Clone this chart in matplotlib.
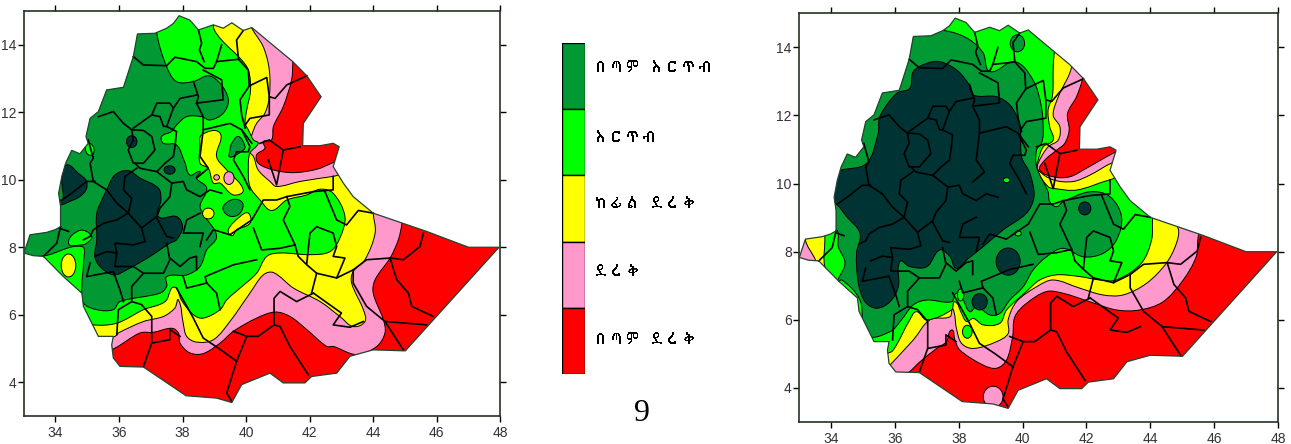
#!/usr/bin/env python
"""Two Ethiopia moisture zone maps with a shared legend"""
import matplotlib
matplotlib.use('Agg')
import matplotlib.pyplot as plt
from matplotlib import font_manager
from matplotlib.ft2font import FT2Font
from matplotlib.patches import Ellipse, PathPatch, Polygon
from matplotlib.path import Path
import numpy as np

DEEP = '#003333'
DARK = '#009933'
GREEN = '#00FF00'
YELLOW = '#FFFF00'
PINK = '#FF99CC'
RED = '#FF0000'

labels = ['በጣም እርጥብ', 'እርጥብ', 'ከፊል ደረቅ', 'ደረቅ', 'በጣም ደረቅ']
legend_colors = [DARK, GREEN, YELLOW, PINK, RED]
x_ticks = [34, 36, 38, 40, 42, 44, 46, 48]
y_ticks = [4, 6, 8, 10, 12, 14]

# lon, lat of the border
border = [(33.01,7.83),(33.2,8.37),(33.72,8.44),(33.99,8.52),(34.16,8.61),(34.16,9.21),(34.1,9.6),(34.2,10.1),
          (34.32,10.49),(34.51,10.87),(34.77,10.77),(35.03,11.08),(34.96,11.28),(35.09,11.82),(35.35,12.02),
          (35.61,12.66),(36.14,12.74),(36.45,13.65),(36.58,14.32),(37.13,14.34),(37.5,14.49),(37.71,14.63),
          (37.89,14.86),(38.23,14.73),(38.5,14.44),(38.97,14.59),(39.28,14.49),(39.55,14.65),(39.91,14.42),
          (40.18,14.51),(40.65,14.14),(41.47,13.5),(41.91,13.08),(42.36,12.46),(41.8,11.67),(41.78,11.01),
          (42.33,11.01),(42.74,11.08),(42.93,10.98),(42.74,10.39),(43.06,9.9),(43.37,9.5),(44.0,9.01),
          (45.68,8.47),(47.0,8.0),(47.96,8.0),(45.01,4.93),(44.0,4.96),(43.27,4.77),(42.85,4.27),(42.06,4.17),
          (41.85,3.98),(41.17,3.98),(40.75,4.27),(39.86,3.93),(39.55,3.4),(39.07,3.53),(38.11,3.6),(36.77,4.45),
          (36.03,4.47),(35.82,4.72),(35.77,5.11),(35.82,5.36),(35.35,5.36),(34.88,6.25),(34.83,6.64),(34.25,7.13),
          (33.62,7.73),(33.3,7.75)]

# zone borders, left map
left_pink = [(41.47,13.85),(41.47,13.5),(41.43,12.96),(41.17,12.17),(40.86,11.58),(40.8,11.18),(40.54,11.13),
             (40.59,10.93),(40.33,10.74),(40.38,10.49),(40.86,10.29),(41.49,10.21),(42.22,10.31),(42.74,10.51),
             (43.16,10.69),(44.95,9.4),(44.9,8.69),(44.79,8.22),(44.53,7.68),(44.06,7.04),(44.0,6.64),(44.32,5.85),
             (44.37,5.46),(44.11,5.06),(43.48,4.82),(42.75,5.06),(42.54,5.06),(41.91,5.56),(41.38,5.95),(40.91,6.08),
             (40.33,5.9),(39.6,5.51),(39.18,5.16),(38.65,4.85),(38.23,4.87),(37.92,5.16),(37.87,5.46),(37.66,5.6),
             (37.08,5.48),(36.66,5.46),(35.87,5.01),(35.4,4.86),(31,4.8),(31,16),(41.47,16)]
left_yellow = [(40.0,16),(40.12,14.64),(40.54,13.94),(40.73,13.25),(40.73,12.46),(40.59,11.97),(40.33,11.67),
               (40.18,11.33),(40.07,10.88),(40.23,10.69),(40.38,10.29),(40.75,9.95),(40.96,9.8),(41.7,9.95),
               (42.74,10.1),(43.37,10.2),(44.0,9.4),(44.0,9.01),(44.06,8.42),(43.74,7.63),(43.37,7.28),(43.32,6.94),
               (43.69,6.15),(43.74,5.8),(43.37,5.65),(42.95,5.95),(42.33,6.39),(41.49,6.79),(40.86,7.25),(40.54,7.18),
               (40.12,6.64),(39.49,5.8),(38.97,5.26),(38.44,5.19),(38.13,5.36),(38.02,5.75),(37.87,6.44),(37.76,6.2),
               (37.4,5.95),(36.77,5.8),(35.98,5.46),(35.87,5.36),(35.4,5.26),(31,5.2),(31,16)]
left_green = [(38.97,16),(38.97,14.54),(39.23,14.14),(39.81,13.6),(40.07,13.25),(40.14,12.66),(40.02,12.07),
              (39.97,11.67),(40.07,11.48),(40.23,11.18),(40.38,11.08),(40.12,10.79),(40.07,10.39),(40.12,9.8),
              (40.44,9.4),(40.8,9.09),(41.28,9.4),(41.91,9.55),(42.33,9.72),(42.74,9.6),(43.11,8.91),(42.95,8.27),
              (42.64,7.87),(42.01,7.78),(41.07,7.83),(40.65,7.73),(40.33,7.23),(39.81,6.79),(39.39,6.44),(39.18,6.15),
              (38.65,5.9),(38.34,6.0),(37.96,6.44),(37.81,6.79),(37.66,6.79),(37.45,6.39),(36.77,6.15),(35.93,5.75),
              (35.19,5.7),(34.67,5.85),(31,6),(31,16)]
left_dark = [(37.15,15.5),(37.19,14.34),(37.5,13.35),(37.81,12.91),(38.34,12.91),(38.81,13.08),(39.18,12.86),
             (39.44,12.37),(39.28,11.97),(38.86,11.77),(38.6,11.87),(38.13,11.87),(37.81,11.62),(37.66,11.43),
             (37.34,11.28),(37.4,11.08),(37.81,11.03),(38.08,10.49),(38.23,10.14),(38.55,10.24),(38.44,10.05),
             (38.76,9.75),(38.55,9.21),(38.71,8.91),(39.07,8.32),(38.76,7.92),(38.55,7.43),(38.13,7.18),(37.5,7.13),
             (37.5,6.84),(37.29,6.64),(36.03,6.39),(35.82,6.15),(35.3,6.15),(34.88,6.35),(34.83,6.84),(34.88,7.53),
             (34.83,8.02),(33.67,7.75),(32.9,7.73),(31,8),(31,15.5)]
left_deep = [(35.61,9.7),(35.87,10.14),(36.29,10.27),(36.66,10.05),(37.24,9.75),(37.32,9.4),(37.24,8.91),(37.81,8.91),
             (38.0,8.61),(37.81,8.22),(37.6,8.12),(36.98,7.73),(36.24,7.33),(35.82,7.18),(35.4,7.43),(35.24,7.73),
             (35.3,8.22),(35.3,9.01),(35.51,9.5)]
left_deep_west = [(34.14,9.4),(34.2,10.1),(34.35,10.44),(34.72,10.19),(34.98,9.95),(34.93,9.65),(34.56,9.4),
                  (33.9,9.3),(33.9,10.2)]
left_green_a = [(34.41,8.12),(34.77,8.5),(35.14,8.32),(34.98,8.12),(34.83,8.07)]
left_green_b = [(34.98,11.08),(35.19,10.98),(35.17,10.74),(34.98,10.79)]
left_yellow_a = [(38.6,11.33),(39.18,11.38),(39.07,10.69),(39.39,10.29),(39.91,9.7),(39.6,9.55),(39.18,9.9),
                 (38.97,9.9),(38.81,10.34),(38.55,10.49),(38.55,10.98)]
left_yellow_b = [(40.07,9.01),(40.12,8.71),(39.7,8.52),(39.55,8.34),(39.44,8.52),(39.81,8.91)]
left_dark_a = [(39.49,10.88),(39.55,11.08),(39.76,11.28),(39.97,10.98),(39.91,10.88),(39.49,10.67)]
left_dark_b = [(39.28,9.21),(39.6,9.42),(39.89,9.31),(39.81,9.01),(39.55,8.91),(39.34,9.01)]

# lon, lat, width, height, colour
left_spots = [(34.41,7.46,0.46,0.68,YELLOW),(39.07,10.07,0.18,0.16,PINK),(39.46,10.05,0.32,0.38,PINK),
              (38.81,9.0,0.36,0.32,YELLOW),(36.4,11.13,0.33,0.35,DEEP),(37.59,10.29,0.35,0.25,DEEP)]

# zone borders, right map
right_pink = [(41.88,16),(41.88,13.43),(41.88,13.09),(41.69,12.55),(41.41,12.06),(41.46,11.57),(41.32,11.18),
              (41.08,10.99),(40.7,10.69),(40.54,10.4),(40.96,10.2),(41.48,10.2),(42.0,10.45),(42.84,10.89),
              (43.15,10.99),(45.65,9.03),(45.5,8.44),(45.44,7.86),(45.03,7.17),(44.4,6.53),(43.67,6.29),(42.94,6.29),
              (42.11,6.53),(41.27,6.78),(40.75,6.83),(40.12,6.48),(39.76,6.09),(39.69,5.51),(39.5,4.82),(39.19,4.58),
              (38.77,4.67),(38.04,5.11),(37.88,5.41),(37.78,5.7),(37.62,5.36),(37.31,5.16),(36.79,4.77),(36.42,4.45),
              (36.06,4.33),(31,4.5),(31,16)]
right_yellow = [(41.55,16),(41.55,13.5),(41.12,12.55),(40.96,12.01),(41.17,11.67),(41.12,11.28),(40.8,11.08),
                (40.49,10.6),(40.49,10.4),(40.96,10.11),(41.58,10.06),(42.11,10.25),(42.78,10.6),(43.15,10.69),
                (44.09,10.1),(44.87,8.69),(44.82,8.25),(44.5,7.66),(43.88,7.07),(43.15,6.73),(42.52,6.73),(41.79,6.93),
                (40.96,7.17),(40.44,6.97),(39.81,6.53),(39.55,6.0),(39.55,5.6),(39.19,5.36),(38.46,5.16),(38.09,5.31),
                (37.93,5.75),(37.81,6.34),(37.73,6.09),(37.1,6.0),(36.58,5.41),(35.85,4.67),(35.64,4.43),(33.66,6.58),
                (33.55,7.66),(33.19,8.42),(33.19,16)]
right_green = [(41.01,16),(41.01,14.12),(40.96,13.43),(40.94,12.6),(40.8,12.16),(40.85,11.67),(40.96,11.28),
               (40.65,11.08),(40.49,10.69),(40.44,10.4),(40.8,9.91),(40.96,9.86),(41.69,9.81),(42.73,10.11),
               (43.25,10.2),(44.09,9.52),(44.07,8.93),(44.04,8.34),(43.72,7.66),(42.94,7.17),(42.42,7.17),(41.79,7.27),
               (41.06,7.32),(40.54,7.17),(40.12,6.83),(39.5,6.29),(39.29,5.9),(38.77,5.85),(38.46,6.04),(38.25,5.95),
               (38.09,6.19),(37.88,6.53),(37.78,6.29),(37.0,6.0),(36.68,6.24),(36.47,6.0),(35.95,5.11),(35.74,5.02),
               (34.7,5.02),(33.81,7.56),(33.81,8.34),(33.81,16)]
right_dark = [(37.73,14.46),(38.35,14.22),(38.77,13.83),(38.98,13.29),(39.76,13.58),(40.33,13.04),(40.59,12.26),
              (40.65,11.48),(40.59,11.18),(40.44,10.99),(40.44,10.5),(40.8,9.76),(40.85,9.47),(41.06,9.32),(41.27,9.47),
              (42.11,9.76),(42.73,9.62),(43.1,9.03),(42.94,8.34),(42.52,7.95),(41.9,7.85),(41.27,8.1),(40.75,7.85),
              (40.33,7.46),(40.02,6.97),(39.6,6.58),(39.29,6.19),(38.98,6.14),(38.56,6.39),(38.35,6.24),(38.14,6.58),
              (37.93,6.78),(37.78,6.53),(37.0,6.58),(36.58,6.44),(36.21,6.0),(35.85,5.65),(35.12,5.56),(34.91,6.58),
              (34.34,7.17),(34.18,7.07),(34.44,7.66),(34.23,8.15),(34.18,8.64),(33.66,8.74),(33.66,15),(36.5,14.6)]
right_deep = [(34.34,10.4),(35.12,10.6),(35.48,11.48),(35.53,11.97),(36.06,12.65),(36.47,12.8),(36.58,13.29),(37.0,13.53),
              (37.41,13.58),(37.93,13.34),(38.3,12.94),(38.46,12.6),(39.19,12.55),(39.65,12.26),(39.92,11.67),(39.97,10.79),
              (40.23,10.3),(40.36,9.62),(40.12,9.13),(39.39,8.64),(38.77,8.15),(38.25,7.76),(37.93,7.51),(37.73,7.85),
              (37.41,8.05),(37.0,7.56),(36.47,7.56),(36.16,7.71),(36.11,6.97),(35.85,6.53),(35.43,6.34),(35.07,6.53),
              (34.86,7.07),(34.8,7.95),(34.91,8.54),(34.49,9.03),(34.13,9.42),(33.66,9.52),(33.97,10.3)]
right_spots = [(39.55,7.71,0.75,0.8,DEEP),(38.66,6.53,0.48,0.48,DEEP),(41.95,9.27,0.38,0.38,DEEP),
               (39.84,14.12,0.45,0.5,DARK),(39.08,3.74,0.62,0.62,PINK),(38.27,5.65,0.3,0.38,GREEN),
               (39.5,10.1,0.2,0.15,GREEN),(39.86,8.54,0.2,0.15,GREEN),(38.06,6.73,0.2,0.35,GREEN)]

left_zones = [(left_pink, PINK), (left_yellow, YELLOW), (left_green, GREEN), (left_dark, DARK),
              (left_green_a, GREEN), (left_green_b, GREEN), (left_yellow_a, YELLOW), (left_yellow_b, YELLOW),
              (left_dark_a, DARK), (left_dark_b, DARK), (left_deep, DEEP), (left_deep_west, DEEP)]
right_zones = [(right_pink, PINK), (right_yellow, YELLOW), (right_green, GREEN), (right_dark, DARK), (right_deep, DEEP)]

# administrative boundaries, same on both maps
admin = [
    [(36.45,13.65),(36.77,13.4),(37.5,13.38),(37.76,13.63),(38.44,13.5),(38.71,13.3),(38.97,13.3),(39.07,13.5),(39.76,13.57)],
    [(38.5,14.44),(38.6,14.04),(38.53,13.85),(38.68,13.5)],
    [(39.23,14.0),(39.07,13.5)],
    [(39.76,13.57),(39.7,14.14),(39.91,14.42)],
    [(39.76,13.57),(40.07,13.25),(40.1,12.78),(40.65,13.03),(40.73,12.46),(40.73,11.92),(40.12,11.82),(39.97,11.62)],
    [(41.91,13.08),(41.28,12.81),(40.91,12.41),(40.73,12.46)],
    [(40.1,12.78),(39.81,12.37),(39.86,11.92),(39.97,11.53)],
    [(38.34,12.91),(38.5,12.46),(38.44,12.27),(39.28,12.37),(39.23,12.96),(38.65,13.25)],
    [(38.44,12.27),(38.65,11.87),(38.65,11.48),(39.49,11.67),(39.86,11.48),(40.18,11.08)],
    [(35.35,11.87),(35.82,12.02),(36.14,11.67),(36.4,11.48),(36.77,11.46),(37.03,11.28),(37.13,10.88),(36.77,10.49),
     (36.45,10.49),(36.29,10.88),(36.45,11.18),(36.4,11.48)],
    [(36.45,11.53),(37.03,11.92),(37.19,12.27),(37.6,12.27),(37.71,12.12),(37.5,11.58),(37.4,11.58),(37.29,11.87),(37.03,11.92)],
    [(37.71,12.12),(37.92,12.41),(38.44,12.51)],
    [(37.5,11.58),(37.81,11.43),(37.76,10.98),(37.71,10.69),(37.45,10.49),(37.19,10.24),(36.66,10.34),(36.5,10.49)],
    [(36.56,10.34),(36.19,10.1),(36.14,9.7),(36.4,9.45),(36.29,9.01)],
    [(35.61,9.7),(35.19,9.95),(35.09,10.49),(35.19,10.64),(35.03,11.18)],
    [(34.2,9.4),(34.51,9.6),(34.98,9.95),(35.24,9.95)],
    [(35.61,9.7),(35.93,9.31),(36.29,9.01),(36.71,8.57),(37.19,8.91),(37.29,9.16),(37.6,9.5),(37.66,9.9)],
    [(36.29,9.01),(35.93,8.81),(35.51,8.71),(35.19,8.52),(35.09,8.32),(34.88,8.22)],
    [(37.19,8.86),(37.5,8.32),(37.71,8.27)],
    [(36.71,8.57),(36.82,8.17),(36.45,8.07),(35.87,8.12),(35.93,7.83),(35.61,7.87),(35.24,7.73)],
    [(37.19,10.24),(37.66,9.9),(38.02,9.95),(38.13,9.7),(38.55,9.5),(38.86,9.7),(39.23,9.6)],
    [(38.55,9.01),(38.13,8.81),(38.02,8.42),(38.65,8.42),(38.55,8.02)],
    [(34.16,8.61),(34.04,8.12),(33.62,7.73)],
    [(34.16,8.55),(34.41,8.47)],
    [(35.09,7.53),(34.98,7.13),(35.82,7.28),(36.03,6.74),(36.14,6.39)],
    [(35.93,7.83),(35.87,7.43),(36.45,7.43),(36.77,7.23)],
    [(37.5,8.12),(37.6,7.63),(37.4,7.23),(36.77,7.23),(36.4,6.84),(36.4,6.39)],
    [(37.6,7.68),(37.92,7.43),(38.23,7.68),(38.44,7.73),(38.44,7.33)],
    [(38.76,8.22),(38.97,8.52),(39.49,8.37),(40.18,8.81),(40.54,9.4),(40.96,9.4),(41.28,9.5),(42.12,9.65),(42.74,9.7),(42.74,10.1)],
    [(40.23,8.57),(40.49,7.92),(41.07,7.97),(41.54,8.07),(41.64,7.73),(41.91,7.48),(42.22,7.23),(42.06,6.64)],
    [(41.54,8.07),(41.17,8.81),(41.38,9.21),(41.28,9.5)],
    [(41.91,7.53),(42.01,8.42),(42.22,8.61),(42.74,8.42),(42.85,8.02),(42.74,7.73),(43.11,7.68),(42.85,7.09),(42.22,7.23)],
    [(42.85,7.09),(43.37,7.33)],
    [(44.0,9.01),(43.53,9.09),(43.16,8.66),(42.85,8.81),(42.48,9.65)],
    [(44.53,7.68),(43.79,7.63),(43.37,7.33),(43.37,6.94),(43.79,6.25),(44.37,5.8),(45.68,5.7)],
    [(45.58,8.42),(45.47,8.02),(44.95,7.63),(44.53,7.68),(44.74,7.04),(45.11,6.64),(45.21,6.25),(45.89,5.95)],
    [(44.37,5.8),(44.74,5.26),(44.95,4.96)],
    [(42.12,6.64),(43.0,6.05),(42.74,5.7),(43.27,5.63),(43.69,5.8)],
    [(42.12,6.64),(41.59,6.39),(41.07,6.69),(40.88,6.49),(40.88,5.7)],
    [(40.88,5.7),(41.07,5.65),(41.38,5.06),(41.96,4.22)],
    [(40.88,5.7),(40.38,5.36),(40.02,5.36),(39.7,4.62),(39.39,3.68),(39.55,3.43)],
    [(39.7,4.62),(39.13,5.01),(38.65,5.31),(38.34,5.9),(38.02,6.44),(37.81,6.79)],
    [(40.02,5.36),(39.6,5.51)],
    [(37.92,5.36),(37.6,5.56),(37.6,5.26),(37.03,5.16),(36.77,4.47)],
    [(37.03,5.16),(37.03,5.95),(36.71,6.3),(36.4,6.39),(35.98,6.15),(35.93,5.41)],
    [(39.18,6.15),(39.07,6.64),(38.76,6.94),(38.71,7.13),(39.6,7.48),(40.33,7.63)],
    [(38.02,7.13),(38.13,6.79),(38.76,6.94)],
    [(40.7,10.59),(40.96,9.85),(41.17,10.88),(40.73,11.18),(40.44,11.08)],
    [(41.17,10.88),(41.7,10.98)],
    [(39.86,11.48),(40.12,10.98),(40.07,10.83),(39.7,10.83),(39.6,10.59),(39.91,10.1),(40.12,9.7)],
    [(38.65,11.48),(38.55,10.69),(38.81,10.34),(38.44,10.05)],
]


def ethiopic_font():
    """First installed font that has the Ethiopic letters"""
    for entry in font_manager.fontManager.ttflist:
        try:
            if 0x1260 in FT2Font(entry.fname).get_charmap():
                return entry.name
        except (OSError, RuntimeError):
            continue
    return 'DejaVu Sans'


def smooth_path(points):
    """Closed curve through the points, handles kept short so long legs don't loop"""
    pts = np.array(points, dtype=float)
    tangents = np.roll(pts, -1, axis=0) - np.roll(pts, 1, axis=0)
    tangents /= np.linalg.norm(tangents, axis=1, keepdims=True)
    verts = [pts[0]]
    codes = [Path.MOVETO]
    for i in range(len(pts)):
        j = (i + 1) % len(pts)
        step = np.linalg.norm(pts[j] - pts[i]) / 3
        verts += [pts[i] + tangents[i] * step, pts[j] - tangents[j] * step, pts[j]]
        codes += [Path.CURVE4, Path.CURVE4, Path.CURVE4]
    return Path(verts, codes)


def draw_map(ax, zones, spots):
    country = Polygon(border, closed=True, facecolor=RED, edgecolor='none', zorder=1)
    ax.add_patch(country)
    z = 2
    for points, color in zones:
        patch = PathPatch(smooth_path(points), facecolor=color, edgecolor='black', linewidth=0.7, zorder=z)
        ax.add_patch(patch)
        patch.set_clip_path(country)
        z += 1
    for lon, lat, w, h, color in spots:
        spot = Ellipse((lon, lat), w, h, facecolor=color, edgecolor='black', linewidth=0.7, zorder=z)
        ax.add_patch(spot)
        spot.set_clip_path(country)
    z += 1
    for line in admin:
        xs, ys = zip(*line)
        ax.plot(xs, ys, color='black', linewidth=1.2, zorder=z, solid_joinstyle='round')
    ax.add_patch(Polygon(border, closed=True, facecolor='none', edgecolor='#224433', linewidth=0.9, zorder=z + 1))

    ax.set_xlim(33, 48)
    ax.set_ylim(3, 15)
    ax.set_xticks(x_ticks)
    ax.set_yticks(y_ticks)
    ax.tick_params(direction='out', length=4.3, width=1, top=True, right=True, labelsize=10,
                   labelcolor='#333333')
    ax.tick_params(axis='x', pad=3)
    ax.tick_params(axis='y', pad=1)
    for spine in ax.spines.values():
        spine.set_linewidth(1.2)
        spine.set_color('#223322')


def px_axes(fig, x0, x1, top, bottom):
    w, h = fig.get_size_inches() * fig.dpi
    return fig.add_axes([x0 / w, 1 - bottom / h, (x1 - x0) / w, (bottom - top) / h])


def main():
    plt.rcParams['font.family'] = ['Liberation Sans', 'DejaVu Sans']
    fig = plt.figure(figsize=(12.91, 4.44), dpi=100)

    draw_map(px_axes(fig, 23.7, 500.3, 11, 416), left_zones, left_spots)
    draw_map(px_axes(fig, 799, 1278, 13.3, 422), right_zones, right_spots)

    # legend, top class first
    leg = px_axes(fig, 562, 585, 43, 374)
    for i, color in enumerate(legend_colors):
        leg.bar(0, 1, bottom=4 - i, width=1, color=color, edgecolor='black', linewidth=1)
    leg.set_xlim(-0.5, 0.5)
    leg.set_ylim(0, 5)
    leg.axis('off')

    font = ethiopic_font()
    for label, py in zip(labels, [68, 138, 204, 272, 340]):
        fig.text(593 / 1291, 1 - py / 444, label, family=[font, 'DejaVu Sans'], fontsize=11.5,
                 va='center', ha='left', color='black')
    fig.text(642 / 1291, 1 - 413 / 444, '9', family='Liberation Serif', fontsize=23, va='center', ha='center')

    fig.savefig('out.png', dpi=100)


if __name__ == "__main__":
    main()
